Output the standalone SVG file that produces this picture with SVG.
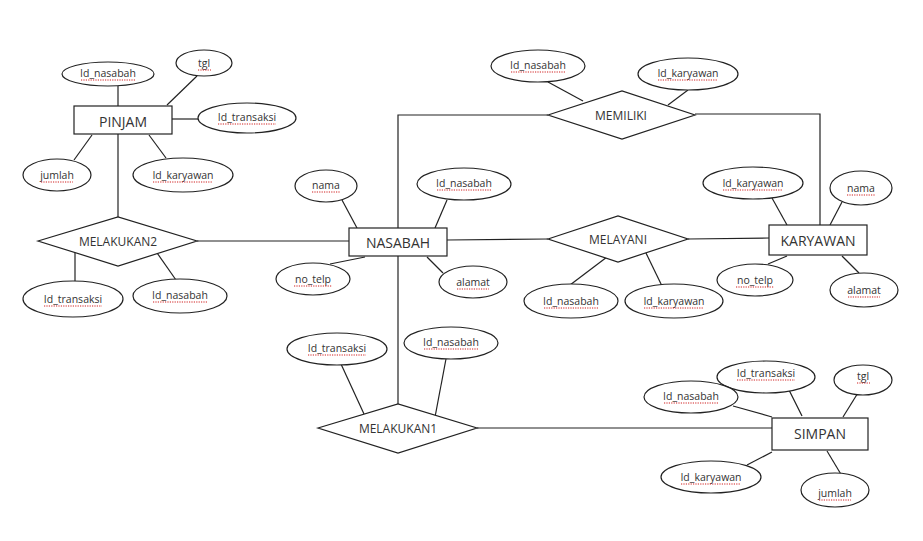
<svg xmlns="http://www.w3.org/2000/svg" width="923" height="541" viewBox="0 0 923 541">
<style>
.bg{fill:#fff}
.ent rect{fill:#fff;stroke:#222;stroke-width:1.2}
.rel polygon{fill:#fff;stroke:#222;stroke-width:1.2}
.att ellipse{fill:#fff;stroke:#222;stroke-width:1.2}
.conn line,.conn polyline{stroke:#222;stroke-width:1.2;fill:none}
text{font-family:"Open Sans","Liberation Sans",sans-serif;fill:#333;text-anchor:middle;dominant-baseline:central}
.ent text{font-size:14px}
.rel text{font-size:12px}
.att text{font-size:10.5px}
.sq{stroke:#d02020;stroke-width:1.2;stroke-dasharray:1.2 1.2}
</style>
<rect class="bg" width="923" height="541"/>
<g id="connectors" class="conn">
<line x1="118" y1="86" x2="118" y2="106"/>
<line x1="167" y1="105" x2="197" y2="76"/>
<line x1="172" y1="119" x2="198" y2="119"/>
<line x1="92" y1="135" x2="74" y2="160"/>
<line x1="149" y1="135" x2="166" y2="158"/>
<line x1="118" y1="134" x2="118" y2="217"/>
<line x1="75" y1="251" x2="75" y2="281"/>
<line x1="155" y1="250" x2="176" y2="280"/>
<line x1="197" y1="241" x2="349" y2="241"/>
<line x1="342" y1="200" x2="357" y2="228"/>
<line x1="447" y1="200" x2="435" y2="228"/>
<line x1="330" y1="264" x2="365" y2="257"/>
<line x1="427" y1="257" x2="443" y2="273"/>
<polyline points="398,228 398,115 548,115"/>
<polyline points="695,114 820,114 820,225"/>
<line x1="548" y1="82" x2="583" y2="101"/>
<line x1="688" y1="90" x2="668" y2="105"/>
<line x1="447" y1="240" x2="548" y2="239"/>
<line x1="688" y1="239" x2="769" y2="238"/>
<line x1="570" y1="285" x2="607" y2="257"/>
<line x1="645" y1="251" x2="662" y2="286"/>
<line x1="772" y1="198" x2="787" y2="225"/>
<line x1="842" y1="202" x2="830" y2="225"/>
<line x1="768" y1="264" x2="787" y2="256"/>
<line x1="842" y1="256" x2="859" y2="273"/>
<line x1="398" y1="256" x2="398" y2="404"/>
<line x1="341" y1="364" x2="364" y2="414"/>
<line x1="446" y1="359" x2="435" y2="417"/>
<line x1="477" y1="428" x2="772" y2="428"/>
<line x1="788" y1="388" x2="802" y2="416"/>
<line x1="861" y1="388" x2="843" y2="417"/>
<line x1="733" y1="406" x2="772" y2="417"/>
<line x1="747" y1="465" x2="772" y2="452"/>
<line x1="827" y1="451" x2="842" y2="476"/>
</g>
<g id="pinjam" class="ent"><rect x="74" y="106" width="98" height="28"/><text x="123" y="121">PINJAM</text></g>
<g id="nasabah" class="ent"><rect x="349" y="228" width="98" height="28"/><text x="398" y="242">NASABAH</text></g>
<g id="karyawan" class="ent"><rect x="769" y="225" width="98" height="30"/><text x="818" y="240">KARYAWAN</text></g>
<g id="simpan" class="ent"><rect x="772" y="418" width="96" height="32"/><text x="820" y="433">SIMPAN</text></g>
<g id="melakukan2" class="rel"><polygon points="38,241 118,217 197,241 118,266"/><text x="118" y="241">MELAKUKAN2</text></g>
<g id="memiliki" class="rel"><polygon points="548,115 622,91 695,115 622,139"/><text x="621" y="115">MEMILIKI</text></g>
<g id="melayani" class="rel"><polygon points="548,239 618,216 688,239 618,262"/><text x="618" y="239">MELAYANI</text></g>
<g id="melakukan1" class="rel"><polygon points="318,428 398,404 477,428 398,453"/><text x="398" y="428">MELAKUKAN1</text></g>
<g id="pinjam-id-nasabah" class="att"><ellipse cx="108" cy="74" rx="46" ry="12"/><text x="108" y="73">Id_nasabah</text><line class="sq" x1="81" y1="80" x2="135" y2="80"/></g>
<g id="pinjam-tgl" class="att"><ellipse cx="204" cy="63" rx="28" ry="13"/><text x="204" y="63">tgl</text><line class="sq" x1="198" y1="70" x2="211" y2="70"/></g>
<g id="pinjam-id-transaksi" class="att"><ellipse cx="247" cy="118" rx="49" ry="15"/><text x="247" y="117">Id_transaksi</text><line class="sq" x1="218" y1="124" x2="276" y2="124"/></g>
<g id="pinjam-jumlah" class="att"><ellipse cx="57" cy="175" rx="34" ry="16"/><text x="57" y="175">jumlah</text><line class="sq" x1="41" y1="182" x2="73" y2="182"/></g>
<g id="pinjam-id-karyawan" class="att"><ellipse cx="183" cy="175" rx="50" ry="17"/><text x="183" y="175">Id_karyawan</text><line class="sq" x1="153" y1="182" x2="213" y2="182"/></g>
<g id="m2-id-transaksi" class="att"><ellipse cx="73" cy="299" rx="50" ry="18"/><text x="73" y="299">Id_transaksi</text><line class="sq" x1="44" y1="306" x2="102" y2="306"/></g>
<g id="m2-id-nasabah" class="att"><ellipse cx="180" cy="296" rx="47" ry="17"/><text x="180" y="295">Id_nasabah</text><line class="sq" x1="153" y1="302" x2="207" y2="302"/></g>
<g id="nasabah-nama" class="att"><ellipse cx="326" cy="186" rx="31" ry="16"/><text x="326" y="185">nama</text><line class="sq" x1="312" y1="192" x2="340" y2="192"/></g>
<g id="nasabah-id-nasabah" class="att"><ellipse cx="464" cy="184" rx="47" ry="16"/><text x="464" y="183">Id_nasabah</text><line class="sq" x1="437" y1="190" x2="491" y2="190"/></g>
<g id="nasabah-no-telp" class="att"><ellipse cx="313" cy="279" rx="37" ry="16"/><text x="313" y="279">no_telp</text><line class="sq" x1="294" y1="286" x2="332" y2="286"/></g>
<g id="nasabah-alamat" class="att"><ellipse cx="473" cy="282" rx="34" ry="16"/><text x="473" y="282">alamat</text><line class="sq" x1="457" y1="289" x2="489" y2="289"/></g>
<g id="memiliki-id-nasabah" class="att"><ellipse cx="538" cy="66" rx="47" ry="16"/><text x="538" y="65">Id_nasabah</text><line class="sq" x1="511" y1="72" x2="565" y2="72"/></g>
<g id="memiliki-id-karyawan" class="att"><ellipse cx="688" cy="74" rx="50" ry="16"/><text x="688" y="73">Id_karyawan</text><line class="sq" x1="658" y1="80" x2="718" y2="80"/></g>
<g id="karyawan-id-karyawan" class="att"><ellipse cx="753" cy="183" rx="50" ry="16"/><text x="753" y="183">Id_karyawan</text><line class="sq" x1="723" y1="190" x2="783" y2="190"/></g>
<g id="karyawan-nama" class="att"><ellipse cx="861" cy="188" rx="31" ry="17"/><text x="861" y="188">nama</text><line class="sq" x1="847" y1="195" x2="875" y2="195"/></g>
<g id="karyawan-no-telp" class="att"><ellipse cx="755" cy="280" rx="38" ry="16"/><text x="755" y="280">no_telp</text><line class="sq" x1="736" y1="287" x2="774" y2="287"/></g>
<g id="karyawan-alamat" class="att"><ellipse cx="864" cy="290" rx="34" ry="17"/><text x="864" y="290">alamat</text><line class="sq" x1="848" y1="297" x2="880" y2="297"/></g>
<g id="melayani-id-nasabah" class="att"><ellipse cx="571" cy="301" rx="47" ry="17"/><text x="571" y="301">Id_nasabah</text><line class="sq" x1="544" y1="308" x2="598" y2="308"/></g>
<g id="melayani-id-karyawan" class="att"><ellipse cx="674" cy="301" rx="49" ry="17"/><text x="674" y="301">Id_karyawan</text><line class="sq" x1="644" y1="308" x2="704" y2="308"/></g>
<g id="m1-id-transaksi" class="att"><ellipse cx="337" cy="349" rx="50" ry="16"/><text x="337" y="348">Id_transaksi</text><line class="sq" x1="308" y1="355" x2="366" y2="355"/></g>
<g id="m1-id-nasabah" class="att"><ellipse cx="451" cy="343" rx="47" ry="16"/><text x="451" y="342">Id_nasabah</text><line class="sq" x1="424" y1="349" x2="478" y2="349"/></g>
<g id="simpan-id-transaksi" class="att"><ellipse cx="766" cy="377" rx="49" ry="16"/><text x="766" y="373">Id_transaksi</text><line class="sq" x1="737" y1="380" x2="795" y2="380"/></g>
<g id="simpan-tgl" class="att"><ellipse cx="863" cy="380" rx="29" ry="15"/><text x="863" y="376">tgl</text><line class="sq" x1="857" y1="383" x2="870" y2="383"/></g>
<g id="simpan-id-nasabah" class="att"><ellipse cx="691" cy="397" rx="47" ry="16"/><text x="691" y="396">Id_nasabah</text><line class="sq" x1="664" y1="403" x2="718" y2="403"/></g>
<g id="simpan-id-karyawan" class="att"><ellipse cx="711" cy="477" rx="50" ry="16"/><text x="711" y="477">Id_karyawan</text><line class="sq" x1="681" y1="484" x2="741" y2="484"/></g>
<g id="simpan-jumlah" class="att"><ellipse cx="835" cy="490" rx="34" ry="17"/><text x="835" y="493">jumlah</text><line class="sq" x1="819" y1="500" x2="851" y2="500"/></g>
</svg>
